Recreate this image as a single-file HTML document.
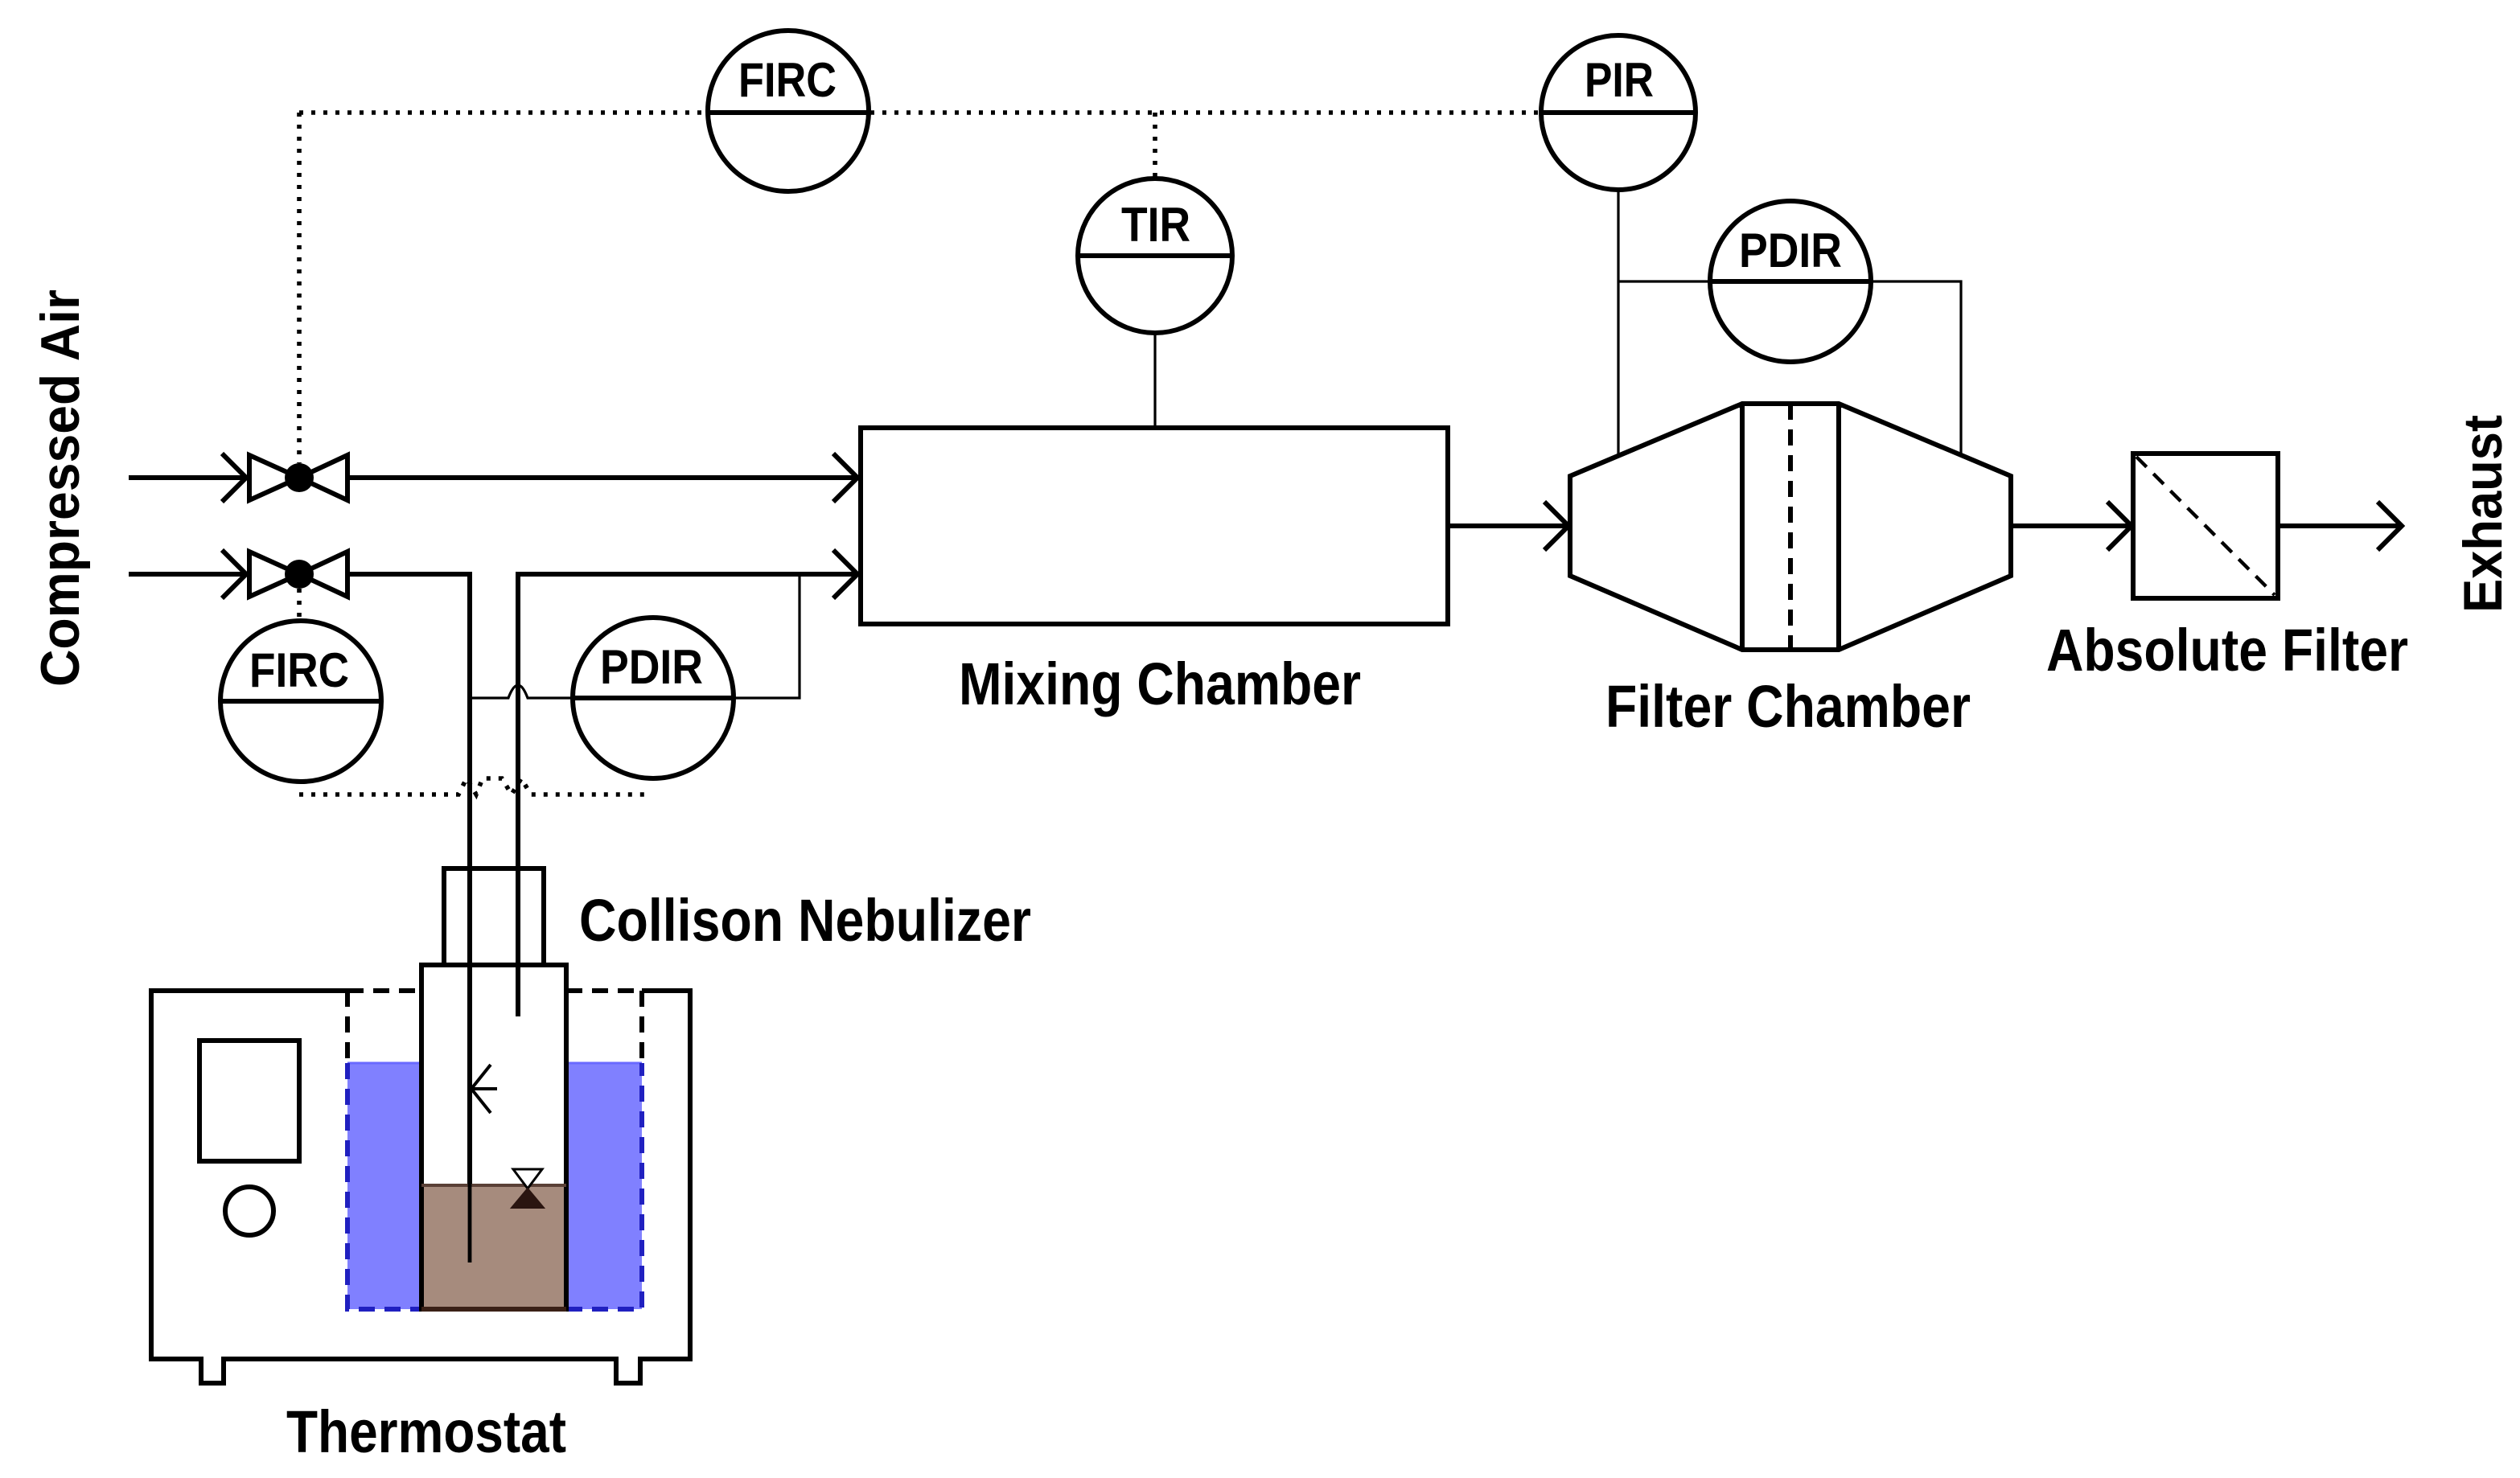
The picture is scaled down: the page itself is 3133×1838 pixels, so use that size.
<!DOCTYPE html>
<html><head><meta charset="utf-8"><style>html,body{margin:0;padding:0;background:#fff}svg{display:block}</style></head>
<body>
<svg width="3133" height="1838" viewBox="0 0 1566.5 919" xmlns="http://www.w3.org/2000/svg">
<g fill="none" stroke="#000" stroke-width="3">
<g stroke-dasharray="2.5 5" stroke-width="2.8">
<path d="M186 70 H441 M541 70 H958 M186 70 V288"/>
<path d="M718 70 V110"/>
<path d="M186 366 V386"/>
<path d="M186 494 H285 L290 484 L296 494 L300 484 H312 L318 494 L324 484 L330 494 H405"/>
</g>
<circle cx="490" cy="69" r="50"/><line x1="440" y1="70" x2="540" y2="70"/>
<circle cx="1006" cy="70" r="48"/><line x1="958" y1="70" x2="1054" y2="70"/>
<circle cx="718" cy="159" r="48"/><line x1="670" y1="159" x2="766" y2="159"/>
<circle cx="1113" cy="175" r="50"/><line x1="1063" y1="175" x2="1163" y2="175"/>
<circle cx="187" cy="436" r="50"/><line x1="137" y1="436" x2="237" y2="436"/>
<circle cx="406" cy="434" r="50"/><line x1="356" y1="434" x2="456" y2="434"/>
<g stroke-width="1.6">
<path d="M718 207 V266"/>
<path d="M1006 118 V283 M1006 175 H1063 M1163 175 H1219 V283"/>
<path d="M292 434 H316 Q322 418 328 434 H356 M456 434 H497 V357"/>
</g>
<path d="M80 297 H155 M216 297 H535"/>
<path d="M80 357 H155 M216 357 H292 V785 M322 632 V357 H535"/>
<path d="M138 282 L153 297 L138 312 M138 342 L153 357 L138 372"/>
<path d="M518 282 L533 297 L518 312 M518 342 L533 357 L518 372"/>
<path d="M155 283 L155 311 L186 297 Z M216 283 L216 311 L186 297 Z"/>
<path d="M155 343 L155 371 L186 357 Z M216 343 L216 371 L186 357 Z"/>
<rect x="535" y="266" width="365" height="122"/>
<path d="M900 327 H975 M960 312 L975 327 L960 342"/>
<path d="M976 296 L1083 251 H1143 L1250 296 V358 L1143 404 H1083 L976 358 Z M1083 251 V404 M1143 251 V404"/>
<path d="M1113 251 V404" stroke-dasharray="10 6"/>
<path d="M1250 327 H1325 M1310 312 L1325 327 L1310 342"/>
<rect x="1326" y="282" width="90" height="90"/>
<path d="M1328 284 L1414 370" stroke-dasharray="9 6" stroke-width="2.2"/>
<path d="M1416 327 H1493 M1478 312 L1493 327 L1478 342"/>
<rect x="216" y="661" width="46" height="153" fill="#8080ff" stroke="none"/>
<rect x="352" y="661" width="47" height="153" fill="#8080ff" stroke="none"/>
<rect x="262" y="737" width="90" height="77" fill="#a68b7d" stroke="none"/>
<path d="M216 661 H262 M352 661 H399" stroke="#6a6aff" stroke-width="1.5"/>
<path d="M216 616 H94 V845 H125 V860 H139 V845 H383 V860 H398 V845 H429 V616 H399"/>
<path d="M216 661 V814 H262 M352 814 H399 V661" stroke-dasharray="10 6" stroke="#2020c0"/>
<path d="M216 616 H262 M352 616 H399 M216 616 V661 M399 616 V661" stroke-dasharray="10 6"/>
<rect x="124" y="647" width="62" height="75"/>
<circle cx="155" cy="753" r="15"/>
<rect x="276" y="540" width="62" height="60"/>
<rect x="262" y="600" width="90" height="214"/>
<path d="M262 737 H352" stroke="#5a4036" stroke-width="2"/>
<path d="M262 814 H352" stroke="#3a2016" stroke-width="3"/>
<path d="M292 540 V785 M322 540 V632" stroke-width="2.4"/>
<path d="M305 662 L293 677 L305 692 M293 677 H309" stroke-width="2"/>
<path d="M319 727 H337 L328 739 Z" stroke-width="1.5" fill="#fff"/>
<path d="M328 739 L318 751 H338 Z" fill="#2a1510" stroke="#2a1510" stroke-width="1"/>
</g>
<circle cx="186" cy="297" r="9"/><circle cx="186" cy="357" r="9"/>
<g font-family="'Liberation Sans Narrow','Liberation Sans',sans-serif" font-weight="bold" fill="#000">
<text x="459" y="60" font-size="30" textLength="61" lengthAdjust="spacingAndGlyphs">FIRC</text>
<text x="985" y="60" font-size="30" textLength="43" lengthAdjust="spacingAndGlyphs">PIR</text>
<text x="697" y="150" font-size="30" textLength="43" lengthAdjust="spacingAndGlyphs">TIR</text>
<text x="1081" y="166" font-size="30" textLength="64" lengthAdjust="spacingAndGlyphs">PDIR</text>
<text x="155" y="427" font-size="30" textLength="62" lengthAdjust="spacingAndGlyphs">FIRC</text>
<text x="373" y="425" font-size="30" textLength="64" lengthAdjust="spacingAndGlyphs">PDIR</text>
<text x="596" y="438" font-size="37" textLength="250" lengthAdjust="spacingAndGlyphs">Mixing Chamber</text>
<text x="998" y="452" font-size="37" textLength="227" lengthAdjust="spacingAndGlyphs">Filter Chamber</text>
<text x="1272" y="417" font-size="37" textLength="225" lengthAdjust="spacingAndGlyphs">Absolute Filter</text>
<text x="360" y="585" font-size="37" textLength="281" lengthAdjust="spacingAndGlyphs">Collison Nebulizer</text>
<text x="178" y="903" font-size="37" textLength="174" lengthAdjust="spacingAndGlyphs">Thermostat</text>
<text transform="translate(49,427) rotate(-90)" font-family="'Liberation Sans',sans-serif" font-size="34" textLength="247" lengthAdjust="spacingAndGlyphs">Compressed Air</text>
<text transform="translate(1555,381) rotate(-90)" font-family="'Liberation Sans',sans-serif" font-size="34" textLength="123" lengthAdjust="spacingAndGlyphs">Exhaust</text>
</g>
</svg>
</body></html>
